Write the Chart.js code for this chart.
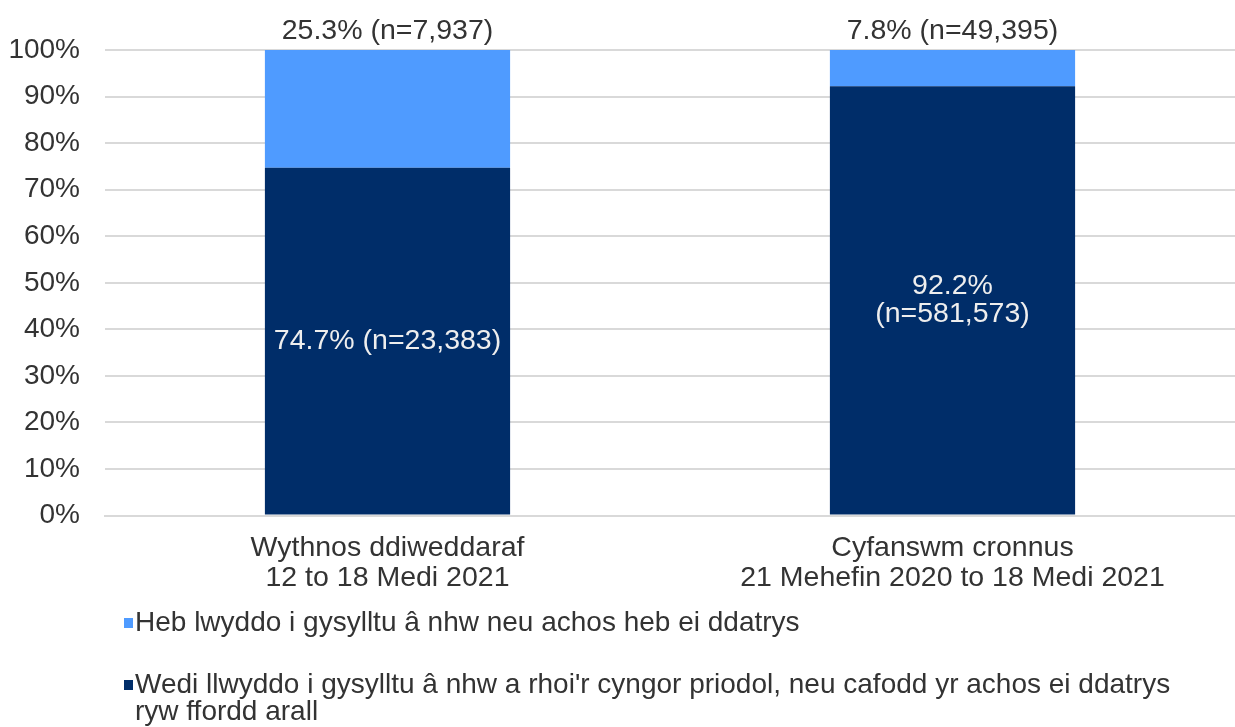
<!DOCTYPE html>
<html>
<head>
<meta charset="utf-8">
<script src="https://cdn.jsdelivr.net/npm/chart.js@4"></script>
<style>
  body { margin: 0; background: #fff; }
  #wrap { width: 1235px; height: 727px; }
</style>
</head>
<body>
<div id="wrap"><canvas id="chart"></canvas></div>
<script>
const categories = [
    ["Wythnos ddiweddaraf", "12 to 18 Medi 2021"],
    ["Cyfanswm cronnus", "21 Mehefin 2020 to 18 Medi 2021"],
];
const contactedValues = [74.7, 92.2];
const notContactedValues = [25.3, 7.8];
const contactedLabels = [["74.7% (n=23,383)"], ["92.2%", "(n=581,573)"]];
const notContactedLabels = ["25.3% (n=7,937)", "7.8% (n=49,395)"];
const seriesNames = [
    ["Heb lwyddo i gysylltu â nhw neu achos heb ei ddatrys"],
    ["Wedi llwyddo i gysylltu â nhw a rhoi'r cyngor priodol, neu cafodd yr achos ei ddatrys", "ryw ffordd arall"],
];

const FONT = "'Liberation Sans', Arial, sans-serif";
const TEXT = "#333333";
const DARK = "#002D69";
const LIGHT = "#4F9BFF";

// bar value labels
const barLabels = {
    id: "barLabels",
    afterDatasetsDraw(chart) {
        const ctx = chart.ctx;
        ctx.save();
        ctx.font = "28.5px " + FONT;
        ctx.textAlign = "center";
        ctx.textBaseline = "middle";
        chart.getDatasetMeta(0).data.forEach((bar, i) => {
            const lines = contactedLabels[i];
            const mid = (bar.y + bar.base) / 2;
            ctx.fillStyle = "#eeeeee";
            lines.forEach((t, j) => {
                ctx.fillText(t, bar.x, mid + (j - (lines.length - 1) / 2) * 28);
            });
        });
        chart.getDatasetMeta(1).data.forEach((bar, i) => {
            ctx.fillStyle = TEXT;
            ctx.fillText(notContactedLabels[i], bar.x, bar.y - 19);
        });
        ctx.restore();
    },
};

// legend drawn under the axis, one item per row
const bottomLegend = {
    id: "bottomLegend",
    afterDraw(chart) {
        const ctx = chart.ctx;
        const colors = [LIGHT, DARK];
        const rows = [623, 685];
        ctx.save();
        ctx.font = "28px " + FONT;
        ctx.textBaseline = "middle";
        ctx.textAlign = "left";
        seriesNames.forEach((lines, i) => {
            ctx.fillStyle = colors[i];
            ctx.fillRect(124, rows[i] - 5, 9, 10);
            ctx.fillStyle = TEXT;
            lines.forEach((t, j) => {
                ctx.fillText(t, 135, rows[i] + j * 27);
            });
        });
        ctx.restore();
    },
};

new Chart(document.getElementById("chart"), {
    type: "bar",
    data: {
        labels: categories,
        datasets: [
            {
                label: seriesNames[1].join(" "),
                data: contactedValues,
                backgroundColor: DARK,
                categoryPercentage: 1,
                barPercentage: 0.434,
            },
            {
                label: seriesNames[0].join(" "),
                data: notContactedValues,
                backgroundColor: LIGHT,
                categoryPercentage: 1,
                barPercentage: 0.434,
            },
        ],
    },
    options: {
        responsive: true,
        maintainAspectRatio: false,
        animation: false,
        layout: { padding: { top: 50, right: 0, bottom: 125, left: 0 } },
        plugins: {
            legend: { display: false },
            tooltip: { enabled: false },
        },
        scales: {
            x: {
                stacked: true,
                grid: { display: false },
                border: { color: "#d9d9d9", width: 2 },
                ticks: {
                    color: TEXT,
                    font: { family: FONT, size: 28.5, lineHeight: 1.06 },
                    padding: 9,
                    maxRotation: 0,
                },
            },
            y: {
                stacked: true,
                min: 0,
                max: 100,
                afterFit: (scale) => {
                    scale.width = 105;
                },
                grid: { color: "#d9d9d9", lineWidth: 2, drawTicks: false },
                border: { display: false },
                ticks: {
                    stepSize: 10,
                    color: TEXT,
                    font: { family: FONT, size: 28 },
                    padding: 25,
                    callback: (v) => v + "%",
                },
            },
        },
    },
    plugins: [barLabels, bottomLegend],
});
</script>
</body>
</html>
